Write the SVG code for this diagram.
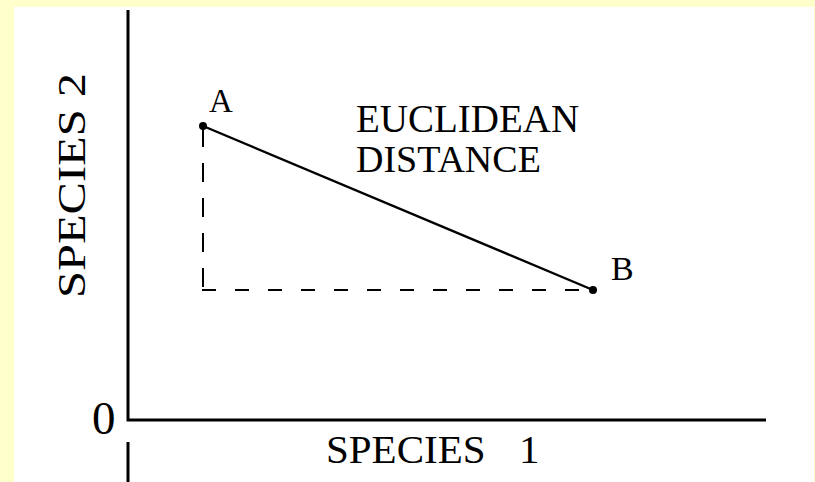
<svg xmlns="http://www.w3.org/2000/svg" width="815" height="482" viewBox="0 0 815 482">
<style>
text{font-family:"Liberation Serif","Times New Roman",serif;fill:#000}
.ax{stroke:#000;stroke-width:3;fill:none}
.ln{stroke:#000;stroke-width:2.4;fill:none}
.dash{stroke:#000;stroke-width:2;fill:none}
</style>
<rect x="0" y="0" width="815" height="482" fill="#FFFFCC"/>
<rect x="14" y="7" width="800" height="475" fill="#FFFFFF"/>
<g id="axes">
<path class="ax" d="M128,10 V420 H766"/>
<path class="ax" d="M128,442 V482"/>
<text x="92" y="434" font-size="47">0</text>
<text x="326" y="463" font-size="41">SPECIES<tspan x="519">1</tspan></text>
<text transform="translate(85,298) rotate(-90)" font-size="40" textLength="225" lengthAdjust="spacingAndGlyphs">SPECIES 2</text>
</g>
<g id="connectors">
<path class="dash" d="M203,128 V291" stroke-dasharray="19 16"/>
<path class="dash" d="M202,290 H593" stroke-dasharray="14 19"/>
<line class="ln" x1="203" y1="126" x2="593" y2="290"/>
</g>
<g id="pointA">
<circle cx="203" cy="126" r="4" fill="#000"/>
<text x="209" y="112" font-size="33">A</text>
</g>
<g id="pointB">
<circle cx="593" cy="290" r="4" fill="#000"/>
<text x="611" y="280" font-size="34">B</text>
</g>
<g id="label">
<text x="356" y="132" font-size="39">EUCLIDEAN</text>
<text x="356" y="172" font-size="38">DISTANCE</text>
</g>
</svg>
